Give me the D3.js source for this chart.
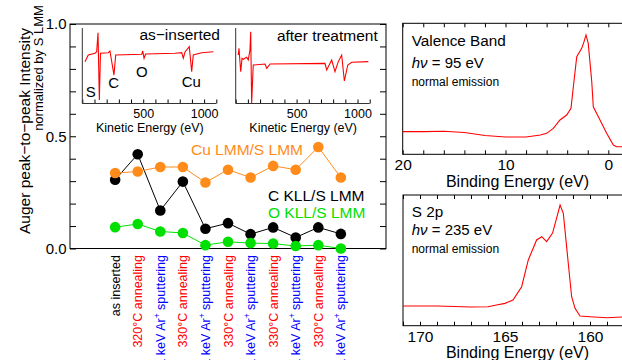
<!DOCTYPE html>
<html>
<head>
<meta charset="utf-8">
<script src="https://cdn.jsdelivr.net/npm/d3@7"></script>
<style>
  body { margin: 0; background: #fff; }
  svg { display: block; font-family: "Liberation Sans", Arial, sans-serif; }
</style>
</head>
<body>
<div id="chart"></div>
<script>
// treatment sequence (x axis of the main panel)
const categories = [
  "as inserted", "320°C annealing", "1 keV Ar+ sputtering", "330°C annealing",
  "1 keV Ar+ sputtering", "330°C annealing", "1 keV Ar+ sputtering", "330°C annealing",
  "1 keV Ar+ sputtering", "330°C annealing", "1 keV Ar+ sputtering"
];
const categoryKind = ["plain", "anneal", "sputter", "anneal", "sputter", "anneal",
  "sputter", "anneal", "sputter", "anneal", "sputter"];

// Auger peak-to-peak ratios
const cuLmm = [0.336, 0.343, 0.363, 0.363, 0.294, 0.351, 0.316, 0.368, 0.351, 0.452, 0.316];
const cKll = [0.306, 0.420, 0.169, 0.298, 0.088, 0.113, 0.064, 0.094, 0.049, 0.094, 0.065];
const oKll = [0.095, 0.109, 0.076, 0.069, 0.015, 0.030, 0.024, 0.022, 0.011, 0.015, 0.0];
const mainTickLabels = [0, 0.5, 1.0];

// AES survey spectra (kinetic energy eV, derivative signal a.u.)
const asInsertedKE = [22, 49, 104, 118, 129, 140, 149, 213, 227, 260, 274, 488, 496, 507, 519,
  761, 816, 829, 843, 878, 898, 911, 980, 1076];
const asInsertedSig = [0.554, 0.642, 0.665, 0.686, 0.938, 0.046, 0.665, 0.673, 0.695, 0.377, 0.642,
  0.652, 0.695, 0.599, 0.656, 0.665, 0.673, 0.599, 0.682, 0.752, 0.421, 0.642, 0.673, 0.686];
const afterKE = [21, 27, 41, 52, 62, 90, 103, 117, 123, 131, 144, 241, 255, 282, 733, 747, 788,
  815, 842, 870, 892, 920, 952, 1089];
const afterSig = [0.642, 0.731, 0.421, 0.599, 0.585, 0.612, 0.576, 0.709, 0.951, 0.007, 0.510,
  0.523, 0.466, 0.523, 0.532, 0.444, 0.576, 0.421, 0.554, 0.642, 0.298, 0.510, 0.546, 0.554];
const keTickLabels = [500, 1000];

// valence band photoemission (binding energy eV, intensity a.u.)
const vbBE = [20, 18, 16, 14, 12, 10, 8, 6.6, 6, 5.35, 4.7, 4.05, 3.63, 3.4, 3.07, 2.59, 2.36,
  2.17, 1.95, 1.61, 1.46, 0.81, 0.16, -0.49, -0.82, -1.4];
const vbInt = [0.173, 0.173, 0.176, 0.166, 0.143, 0.132, 0.132, 0.147, 0.160, 0.198, 0.262,
  0.300, 0.351, 0.516, 0.745, 0.809, 0.860, 0.911, 0.847, 0.554, 0.363, 0.262, 0.160, 0.071,
  0.058, 0.058];
const vbTickLabels = [20, 10, 0];

// S 2p core level
const s2pBE = [171, 169, 167, 166, 165.5, 165, 164.53, 164.02, 163.63, 163.14, 162.84, 162.55,
  162.2, 161.76, 161.57, 161.28, 161.08, 160.88, 160.59, 160, 159, 158];
const s2pInt = [0.151, 0.151, 0.143, 0.145, 0.158, 0.171, 0.197, 0.298, 0.503, 0.656, 0.681,
  0.643, 0.709, 0.923, 0.86, 0.48, 0.222, 0.133, 0.074, 0.069, 0.061, 0.067];
const s2pTickLabels = [170, 165, 160];

const orange = "#ff8c1a";
const green = "#00e000";
const red = "#ff0000";
const blue = "#0000ff";

const svg = d3.select("#chart").append("svg")
  .attr("width", 622)
  .attr("height", 360);

function styleAxis(g, size) {
  g.attr("font-family", null).attr("font-size", size);
  g.select(".domain").remove();
  g.selectAll("line").attr("stroke", "#000");
  g.selectAll("text").attr("fill", "#000");
}

// ---------- main panel ----------
const x = d3.scaleLinear().domain([-2, 12]).range([70, 386]);
const y = d3.scaleLinear().domain([0, 1]).range([248.5, 24]);
const yTicks = d3.range(0, 11).map(i => i / 10);

svg.append("g")
  .attr("transform", "translate(70,0)")
  .call(d3.axisLeft(y).tickValues(yTicks).tickSize(-6).tickPadding(3.5)
    .tickFormat(d => mainTickLabels.some(t => Math.abs(t - d) < 1e-6) ? d3.format(".1f")(d) : ""))
  .call(g => styleAxis(g, 15));

svg.append("g")
  .attr("transform", "translate(386,0)")
  .call(d3.axisRight(y).tickValues(yTicks).tickSize(-6).tickFormat(""))
  .call(g => styleAxis(g, 15));

svg.append("rect")
  .attr("x", x.range()[0]).attr("y", y(1))
  .attr("width", x.range()[1] - x.range()[0])
  .attr("height", y(0) - y(1))
  .attr("fill", "none").attr("stroke", "#000");

const yTitle = svg.append("g").attr("fill", "#000");
yTitle.append("text")
  .attr("transform", "translate(30,131) rotate(-90)")
  .attr("text-anchor", "middle")
  .attr("font-size", 15.5)
  .text("Auger peak\u2212to\u2212peak Intensity");
yTitle.append("text")
  .attr("transform", "translate(42.5,68) rotate(-90)")
  .attr("text-anchor", "middle")
  .attr("font-size", 13)
  .text("normalized by S LMM");

// category labels
const catColor = { plain: "#000", anneal: red, sputter: blue };
categories.forEach((c, i) => {
  const t = svg.append("text")
    .attr("transform", `translate(${x(i) + 4.5},255) rotate(-90)`)
    .attr("text-anchor", "end")
    .attr("font-size", 12.5)
    .attr("fill", catColor[categoryKind[i]]);
  if (c.includes("Ar+")) {
    const parts = c.split("Ar+");
    t.append("tspan").text(parts[0] + "Ar");
    t.append("tspan").attr("dy", -5).attr("font-size", 8.5).text("+");
    t.append("tspan").attr("dy", 5).text(parts[1]);
  } else {
    t.text(c);
  }
});

const line = d3.line().x((d, i) => x(i)).y(d => y(d));
[[cKll, "#000"], [oKll, green], [cuLmm, orange]].forEach(([vals, col]) => {
  svg.append("path").datum(vals)
    .attr("d", line).attr("fill", "none").attr("stroke", col).attr("stroke-width", 1);
  svg.append("g").selectAll("circle").data(vals).join("circle")
    .attr("cx", (d, i) => x(i)).attr("cy", d => y(d)).attr("r", 5.3)
    .attr("fill", col);
});

svg.append("text").attr("x", 191).attr("y", 155).attr("font-size", 15.5)
  .attr("fill", orange).text("Cu LMM/S LMM");
svg.append("text").attr("x", 268).attr("y", 200.7).attr("font-size", 15.5)
  .attr("fill", "#000").text("C KLL/S LMM");
svg.append("text").attr("x", 268).attr("y", 218).attr("font-size", 15.5)
  .attr("fill", green).text("O KLL/S LMM");

// ---------- AES insets ----------
function drawInset(left, ke, sig, title, titleEnd, titleY, peaks) {
  const xi = d3.scaleLinear().domain([0, 1100]).range([left, left + 134]);
  const yi = d3.scaleLinear().domain([0, 1]).range([103.5, 28]);
  const g = svg.append("g");
  g.append("g")
    .attr("transform", `translate(0,${yi(0)})`)
    .call(d3.axisBottom(xi).tickValues(d3.range(0, 1101, 100)).tickSize(-4).tickPadding(5.9)
      .tickFormat(d => keTickLabels.includes(d) ? d : ""))
    .call(a => styleAxis(a, 12.5));
  g.append("line")
    .attr("x1", xi(0)).attr("x2", xi(1100)).attr("y1", yi(0)).attr("y2", yi(0))
    .attr("stroke", "#333");
  g.append("line")
    .attr("x1", xi(0)).attr("x2", xi(0)).attr("y1", yi(0)).attr("y2", yi(1))
    .attr("stroke", "#333");
  g.append("text")
    .attr("x", (xi(0) + xi(1100)) / 2 + 0.5).attr("y", 131.7)
    .attr("text-anchor", "middle").attr("font-size", 12.5)
    .text("Kinetic Energy (eV)");
  g.append("path").datum(ke.map((k, i) => [k, sig[i]]))
    .attr("d", d3.line().x(d => xi(d[0])).y(d => yi(d[1])))
    .attr("fill", "none").attr("stroke", red).attr("stroke-width", 1.1);
  g.append("text")
    .attr("x", titleEnd).attr("y", titleY)
    .attr("text-anchor", "end").attr("font-size", 15.5)
    .text(title);
  peaks.forEach(p => {
    g.append("text").attr("x", p[1]).attr("y", p[2]).attr("font-size", 15).text(p[0]);
  });
}
drawInset(82.3, asInsertedKE, asInsertedSig, "as\u2212inserted", 220, 40,
  [["S", 85.7, 97.3], ["C", 108.3, 88.3], ["O", 136, 76.7], ["Cu", 181.7, 86.7]]);
drawInset(235.7, afterKE, afterSig, "after treatment", 377.7, 40.7, []);

// ---------- photoemission panels ----------
function drawPes(opt) {
  const xs = d3.scaleLinear().domain(opt.domain).range(opt.range);
  const ys = d3.scaleLinear().domain([0, 1]).range([opt.bottom, opt.top]);
  const g = svg.append("g");
  g.append("g")
    .attr("transform", `translate(0,${opt.bottom})`)
    .call(d3.axisBottom(xs).tickValues(opt.ticks).tickSize(-4).tickPadding(5)
      .tickFormat(d => opt.labels.includes(d) ? d : ""))
    .call(a => styleAxis(a, 15.5));
  g.append("g")
    .attr("transform", `translate(0,${opt.top})`)
    .call(d3.axisTop(xs).tickValues(opt.ticks).tickSize(-4).tickFormat(""))
    .call(a => styleAxis(a, 15.5));
  g.append("rect")
    .attr("x", opt.range[0]).attr("y", opt.top)
    .attr("width", opt.range[1] - opt.range[0]).attr("height", opt.bottom - opt.top)
    .attr("fill", "none").attr("stroke", "#000");
  g.append("path").datum(opt.be.map((b, i) => [b, opt.int[i]]))
    .attr("d", d3.line().x(d => xs(d[0])).y(d => ys(d[1])))
    .attr("fill", "none").attr("stroke", red).attr("stroke-width", 1.1);
  g.append("text")
    .attr("x", 517.5).attr("y", opt.xTitleY)
    .attr("text-anchor", "middle").attr("font-size", 16)
    .text("Binding Energy (eV)");
  g.append("text").attr("x", 411.7).attr("y", opt.textY[0]).attr("font-size", 15.3)
    .text(opt.name);
  const hv = g.append("text").attr("x", 411.7).attr("y", opt.textY[1]).attr("font-size", 15);
  hv.append("tspan").attr("font-style", "italic").text("h\u03bd");
  hv.append("tspan").text(" = " + opt.photon + " eV");
  g.append("text").attr("x", 411.7).attr("y", opt.textY[2]).attr("font-size", 12)
    .text("normal emission");
}

drawPes({
  domain: [20, -1.4], range: [402.7, 622.7], top: 23.3, bottom: 154.3,
  ticks: d3.range(0, 21, 2), labels: vbTickLabels, be: vbBE, int: vbInt,
  xTitleY: 187, name: "Valence Band", photon: 95, textY: [46, 68.3, 86]
});
drawPes({
  domain: [171, 158], range: [403, 624], top: 195, bottom: 325.7,
  ticks: d3.range(158, 172), labels: s2pTickLabels, be: s2pBE, int: s2pInt,
  xTitleY: 358, name: "S 2p", photon: 235, textY: [217.3, 235, 253.3]
});
</script>
</body>
</html>
